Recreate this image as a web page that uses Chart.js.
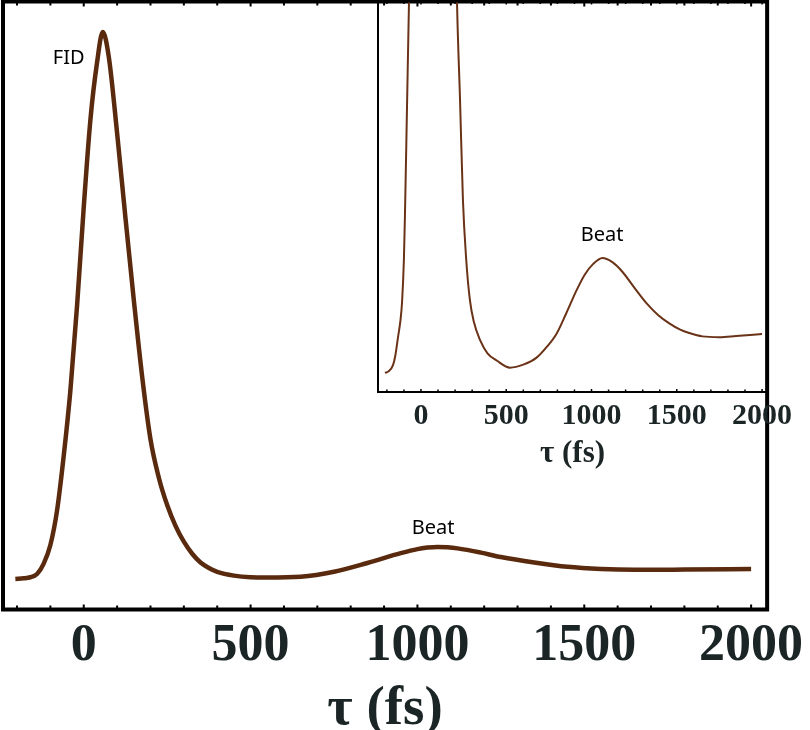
<!DOCTYPE html>
<html>
<head>
<meta charset="utf-8">
<title>FID and beat signal</title>
<script src="https://cdn.jsdelivr.net/npm/chart.js"></script>
<style>
  body { margin: 0; background: #fff; }
  #wrap { position: relative; width: 810px; height: 730px; }
  #mainChart { position: absolute; left: 0; top: 0; }
  #insetChart { position: absolute; left: 330px; top: 0; }
</style>
</head>
<body>
<div id="wrap">
  <canvas id="mainChart" width="810" height="730"></canvas>
  <canvas id="insetChart" width="480" height="480"></canvas>
</div>
<script>
// main panel: delay time tau (fs) and signal normalised to the FID peak
const tau = [-205, -180, -160, -140, -120, -100, -80, -60, -40, -20, 0, 20, 40, 57, 75, 100, 125, 150, 175, 200,
  225, 250, 275, 300, 325, 350, 375, 400, 450, 500, 550, 650, 750, 850, 950, 1000, 1030, 1060, 1090, 1120,
  1190, 1250, 1350, 1450, 1550, 1650, 1800, 2000];
const signal = [0.000, 0.001, 0.003, 0.009, 0.028, 0.062, 0.125, 0.225, 0.345, 0.50, 0.68, 0.84, 0.945, 1.0, 0.955, 0.815, 0.66, 0.51, 0.37, 0.255,
  0.185, 0.135, 0.097, 0.068, 0.046, 0.030, 0.020, 0.013, 0.006, 0.003, 0.0025, 0.004, 0.013, 0.029, 0.047, 0.0545, 0.0572, 0.0585, 0.0578, 0.0558,
  0.048, 0.040, 0.030, 0.022, 0.018, 0.0165, 0.017, 0.018];
// inset panel (zoom on the beat)
const insetTau = [-211, -190, -164, -150, -135, -120, -111, -100, -94, -82, -70, -60, -40, -20, 0, 20, 40, 57, 75, 100,
  125, 150, 175, 200, 211, 229, 246, 265, 287, 310, 346, 390, 446, 522, 600, 678, 740, 795, 850, 912,
  960, 1010, 1064, 1120, 1181, 1250, 1322, 1390, 1456, 1520, 1573, 1650, 1750, 1848, 2000];
const insetSignal = [0.000, 0.0008, 0.004, 0.009, 0.018, 0.027, 0.036, 0.058, 0.08, 0.135, 0.19, 0.235, 0.345, 0.50, 0.68, 0.84, 0.945, 1.0, 0.955, 0.815,
  0.66, 0.51, 0.37, 0.25, 0.19, 0.139, 0.088, 0.058, 0.037, 0.026, 0.0168, 0.010, 0.0062, 0.0027, 0.0042, 0.0078, 0.0135, 0.020, 0.030, 0.042,
  0.050, 0.0555, 0.0585, 0.0565, 0.0515, 0.0435, 0.0355, 0.0295, 0.0252, 0.022, 0.0203, 0.0186, 0.0182, 0.0188, 0.0198];
const xTickLabels = [0, 500, 1000, 1500, 2000];
const xTickValues = [-200, -100, 0, 100, 200, 300, 400, 500, 600, 700, 800, 900, 1000, 1100, 1200, 1300, 1400, 1500, 1600, 1700, 1800, 1900, 2000];

const serif = '"Liberation Serif", "Times New Roman", serif';
const sans = '"Noto Sans", "Open Sans", sans-serif';
const labelColor = '#1c2526';

// box round the plot, little inner tick marks, text notes
const frame = {
  id: 'frame',
  afterDraw(chart, args, opts) {
    const { ctx, chartArea: a, scales: { x, y } } = chart;
    ctx.save();
    ctx.strokeStyle = '#000';
    ctx.lineWidth = opts.width;
    ctx.strokeRect(a.left, a.top, a.right - a.left, a.bottom - a.top);
    ctx.lineWidth = opts.tickWidth;
    x.ticks.forEach(t => {
      const px = x.getPixelForValue(t.value);
      const len = opts.width / 2 + (t.value % 500 === 0 ? opts.major : opts.minor);
      ctx.beginPath();
      ctx.moveTo(px, a.bottom); ctx.lineTo(px, a.bottom - len);
      ctx.moveTo(px, a.top); ctx.lineTo(px, a.top + len);
      ctx.stroke();
    });
    ctx.fillStyle = '#000';
    ctx.textAlign = 'center';
    ctx.textBaseline = 'middle';
    ctx.font = opts.noteFont;
    opts.notes.forEach(n => {
      ctx.fillText(n.text, x.getPixelForValue(n.x), y.getPixelForValue(n.y));
    });
    ctx.restore();
  }
};

function xAxis(min, max, tickSize, tickPad, titleSize, titleLh, titlePad, height) {
  return {
    type: 'linear', min: min, max: max,
    grid: { display: false, drawTicks: false },
    border: { display: false },
    afterBuildTicks(s) { s.ticks = xTickValues.map(v => ({ value: v })); },
    ticks: {
      autoSkip: false, maxRotation: 0, minRotation: 0, padding: tickPad, color: labelColor,
      font: { family: serif, weight: 'bold', size: tickSize },
      callback: v => xTickLabels.includes(v) ? String(v) : ''
    },
    title: {
      display: true, text: 'τ (fs)', color: labelColor,
      font: { family: serif, weight: 'bold', size: titleSize, lineHeight: titleLh },
      padding: { top: 0, bottom: titlePad }
    },
    afterFit(s) { s.height = height; }
  };
}

new Chart(document.getElementById('mainChart'), {
  type: 'line',
  data: { datasets: [{ data: tau.map((t, i) => ({ x: t, y: signal[i] })), borderColor: '#5a2a0f', borderWidth: 4.5, pointRadius: 0, cubicInterpolationMode: 'monotone' }] },
  options: {
    responsive: false, animation: false,
    layout: { padding: { left: 3, top: 1.5, right: 42, bottom: 0 } },
    plugins: {
      legend: { display: false }, tooltip: { enabled: false },
      frame: {
        width: 4, tickWidth: 2, major: 3, minor: 2, noteFont: '20px ' + sans,
        notes: [{ text: 'FID', x: -45, y: 0.952 }, { text: 'Beat', x: 1047, y: 0.093 }]
      }
    },
    scales: {
      x: xAxis(-242, 2048, 52, 6, 55, 0.6, 3.5, 120.5),
      y: { display: false, min: -0.056, max: 1.056 }
    }
  },
  plugins: [frame]
});

new Chart(document.getElementById('insetChart'), {
  type: 'line',
  data: { datasets: [{ data: insetTau.map((t, i) => ({ x: t, y: insetSignal[i] })), borderColor: '#6a3317', borderWidth: 2, pointRadius: 0, cubicInterpolationMode: 'monotone' }] },
  options: {
    responsive: false, animation: false,
    layout: { padding: { left: 48, top: 1.5, right: 43, bottom: 0 } },
    plugins: {
      legend: { display: false }, tooltip: { enabled: false },
      frame: {
        width: 2, tickWidth: 1.5, major: 2, minor: 1.5, noteFont: '20px ' + sans,
        notes: [{ text: 'Beat', x: 1062, y: 0.0702 }]
      }
    },
    scales: {
      x: xAxis(-252, 2029, 30, 6, 31, 1, 10.5, 88),
      y: { display: false, min: -0.0097, max: 0.189 }
    }
  },
  plugins: [frame]
});
</script>
</body>
</html>
